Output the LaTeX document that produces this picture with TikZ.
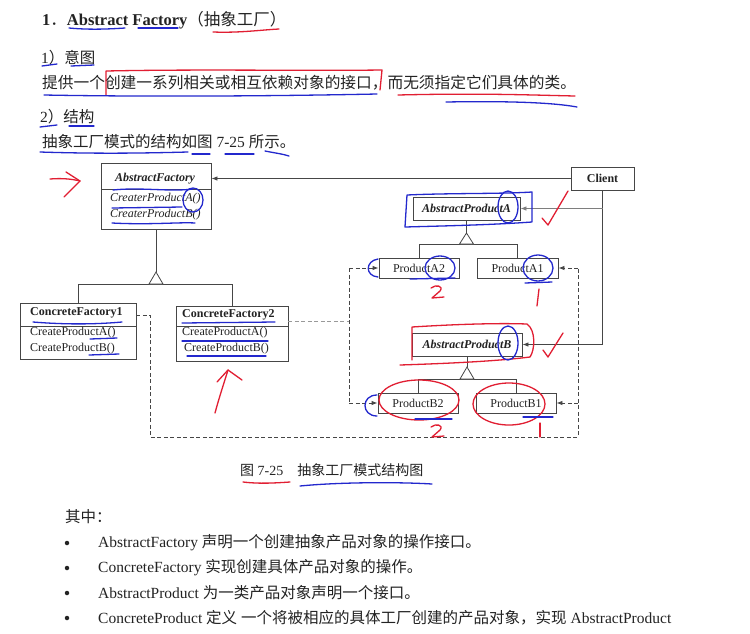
\documentclass[tikz,border=0pt]{standalone}
\usepackage{fontspec}
\setmainfont{Liberation Serif}
\newfontfamily\cjk{Noto Sans CJK SC}
\usetikzlibrary{arrows.meta}
\definecolor{ink}{RGB}{35,35,35}
\definecolor{lin}{RGB}{70,70,70}
\definecolor{pred}{RGB}{225,30,50}
\definecolor{pblue}{RGB}{35,40,205}
\begin{document}
\begin{tikzpicture}[x=1pt,y=-1pt,
  txt/.style={anchor=west,inner sep=0pt,text=ink,font=\fontsize{15.5}{18}\selectfont},
  dtxt/.style={anchor=west,inner sep=0pt,text=ink,font=\fontsize{12}{14}\selectfont},
  ditxt/.style={anchor=west,inner sep=0pt,text=ink,font=\itshape\fontsize{12}{14}\selectfont},
  box/.style={draw=lin,line width=0.9pt,fill=white,inner sep=0pt,text=ink,font=\fontsize{12}{14}\selectfont},
  bibox/.style={box,font=\bfseries\itshape\fontsize{12}{14}\selectfont},
  conn/.style={draw=lin,line width=0.8pt},
  arr/.style={-{Latex[length=6pt,width=4.5pt]}},
  dsh/.style={draw=lin,line width=0.9pt,dash pattern=on 4pt off 2.5pt},
  rp/.style={draw=pred,line width=1.3pt,line cap=round,line join=round},
  bp/.style={draw=pblue,line width=1.3pt,line cap=round,line join=round},
  bul/.style={circle,fill=ink,inner sep=0pt,minimum size=4.5pt},
]
\path[fill=white] (0,0) rectangle (750,633);

% ---------- header text ----------
\node[txt,font=\fontsize{16.5}{19}\selectfont] (title) at (42,20) {{\bfseries 1}{\cjk ．}{\bfseries Abstract Factory}{\cjk （抽象工厂）}};
\node[txt] (h1) at (41,58) {1{\cjk ）意图}};
\node[txt,font=\fontsize{15.7}{18}\selectfont] (p1) at (42,83) {\cjk 提供一个创建一系列相关或相互依赖对象的接口，而无须指定它们具体的类。};
\node[txt] (h2) at (40,117) {2{\cjk ）结构}};
\node[txt] (p2) at (42,142) {{\cjk 抽象工厂模式的结构如图} 7-25 {\cjk 所示。}};

% ---------- diagram boxes ----------
\node[box,minimum width=110pt,minimum height=66pt] (af) at (156,196) {};
\draw[conn] (101,189) -- (211,189);
\node[anchor=center,inner sep=0pt,text=ink,font=\bfseries\itshape\fontsize{12}{14}\selectfont] (aft) at (155,179) {AbstractFactory};
\node[ditxt] (afm1) at (110,199) {CreaterProductA()};
\node[ditxt] (afm2) at (110,215) {CreaterProductB()};

\node[box,minimum width=63pt,minimum height=23pt,font=\bfseries\fontsize{12}{14}\selectfont] (client) at (602.5,178.5) {Client};

\node[box,minimum width=116pt,minimum height=56pt] (cf1) at (78,331) {};
\draw[conn] (20,326) -- (136,326);
\node[dtxt,font=\bfseries\fontsize{12}{14}\selectfont] (cf1n) at (30,313) {ConcreteFactory1};
\node[dtxt] (cf1a) at (30,333) {CreateProductA()};
\node[dtxt] (cf1b) at (30,349) {CreateProductB()};

\node[box,minimum width=112pt,minimum height=55pt] (cf2) at (232,333.5) {};
\draw[conn] (176,326) -- (288,326);
\node[dtxt,font=\bfseries\fontsize{12}{14}\selectfont] (cf2n) at (182,315) {ConcreteFactory2};
\node[dtxt] (cf2a) at (182,333) {CreateProductA()};
\node[dtxt] (cf2b) at (184,349) {CreateProductB()};

\node[bibox,minimum width=107pt,minimum height=23pt] (apa) at (466.5,208.5) {AbstractProductA};
\node[box,minimum width=80pt,minimum height=20pt] (pa2) at (419,268) {ProductA2};
\node[box,minimum width=81pt,minimum height=20pt] (pa1) at (517.5,268) {ProductA1};
\node[bibox,minimum width=110pt,minimum height=23pt] (apb) at (467,344.5) {AbstractProductB};
\node[box,minimum width=80pt,minimum height=20pt] (pb2) at (418,403) {ProductB2};
\node[box,minimum width=80pt,minimum height=20pt] (pb1) at (516,403) {ProductB1};

% ---------- inheritance ----------
\coordinate (t1) at (156,272);
\coordinate (k1) at (156,284);
\draw[conn] (af.south) -- (t1);
\draw[conn] (cf1.north) -- (cf1.north |- k1) -- (cf2.north |- k1) -- (cf2.north);
\draw[conn,fill=white] (t1) -- ++(-7,12) -- ++(14,0) -- cycle;

\coordinate (t2) at (466.5,233);
\coordinate (k2) at (466.5,244);
\draw[conn] (apa.south) -- (t2);
\draw[conn] (pa2.north) -- (pa2.north |- k2) -- (pa1.north |- k2) -- (pa1.north);
\draw[conn,fill=white] (t2) -- ++(-7,11) -- ++(14,0) -- cycle;

\coordinate (t3) at (467,367);
\coordinate (k3) at (467,379);
\draw[conn] (apb.south) -- (t3);
\draw[conn] (pb2.north) -- (pb2.north |- k3) -- (pb1.north |- k3) -- (pb1.north);
\draw[conn,fill=white] (t3) -- ++(-7,12) -- ++(14,0) -- cycle;

% ---------- client associations ----------
\draw[conn,arr] (client.west) -- (client.west -| af.east);
\draw[conn,arr] (client.south) -- (client.south |- apb.east) -- (apb.east);
\draw[conn,arr,draw=lin!70] (client.south |- apa.east) -- (apa.east);

% ---------- dependencies (dashed) ----------
\coordinate (d1) at (150,315);
\coordinate (d2) at (150,437);
\coordinate (d3) at (578,437);
\draw[dsh] (cf1.east |- d1) -- (d1) -- (d2) -- (d3) -- (d3 |- pa1.east);
\draw[dsh,arr] (d3 |- pa1.east) -- (pa1.east);
\draw[dsh,arr] (d3 |- pb1.east) -- (pb1.east);
\coordinate (e1) at (349,321);
\draw[dsh,draw=lin!55] (cf2.east |- e1) -- (e1);
\draw[dsh] (e1 |- pa2.west) -- (e1 |- pb2.west);
\draw[dsh,arr] (e1 |- pa2.west) -- (pa2.west);
\draw[dsh,arr] (e1 |- pb2.west) -- (pb2.west);

% ---------- caption & list ----------
\node[txt,font=\fontsize{14}{16}\selectfont] (cap) at (240,470) {{\cjk 图} 7-25{\cjk 　抽象工厂模式结构图}};
\node[txt] (q0) at (65,517) {\cjk 其中：};
\node[bul] (b1) at (67,543) {};
\node[bul] (b2) at (67,568) {};
\node[bul] (b3) at (67,593) {};
\node[bul] (b4) at (67,618) {};
\node[txt] (q1) at (98,543) {AbstractFactory {\cjk 声明一个创建抽象产品对象的操作接口。}};
\node[txt] (q2) at (98,568) {ConcreteFactory {\cjk 实现创建具体产品对象的操作。}};
\node[txt] (q3) at (98,593) {AbstractProduct {\cjk 为一类产品对象声明一个接口。}};
\node[txt] (q4) at (98,618) {ConcreteProduct {\cjk 定义\hspace{4pt}一个将被相应的具体工厂创建的产品对象，实现} AbstractProduct};

% ---------- hand annotations: header ----------
\draw[bp] (69,28) .. controls (90,30) and (110,29) .. (125,28);
\draw[bp] (138,28) -- (178,28);
\draw[rp] (213,32) .. controls (240,33) and (260,30) .. (279,29);
\draw[bp] (42,66) -- (57,64);
\draw[bp] (71,66) -- (94,65);
\draw[rp] (106,95) -- (106,71) .. controls (200,69) and (300,71) .. (382,70) -- (380,90);
\draw[bp] (44,95) .. controls (150,97) and (280,96) .. (377,94);
\draw[rp] (398,95) .. controls (480,93) and (530,95) .. (575,96);
\draw[bp] (446,102) .. controls (500,101) and (550,102) .. (577,107);
\draw[bp] (40,127) -- (57,125);
\draw[bp] (69,126) -- (94,126);
\draw[bp] (40,152) .. controls (100,154) and (150,153) .. (188,152);
\draw[bp] (192,154) -- (210,154);
\draw[bp] (225,154) -- (254,154);
\draw[bp] (265,151) .. controls (275,153) and (283,154) .. (289,156);

% ---------- hand annotations: diagram ----------
\draw[rp] (50,179) .. controls (62,178) and (72,179) .. (80,181);
\draw[rp] (66,172) -- (80,181) -- (64,197);
\draw[bp] (113,190) .. controls (140,187) and (170,192) .. (193,189);
\draw[bp] (193,200) ellipse [x radius=10pt,y radius=12pt];
\draw[bp] (112,208) -- (182,207);
\draw[bp] (112,223) .. controls (150,225) and (180,222) .. (195,223);

\draw[bp] (33,322) .. controls (70,325) and (100,324) .. (122,322);
\draw[bp] (90,339) -- (117,338);
\draw[bp] (89,355) -- (119,354);
\draw[bp] (182,323) -- (275,322);
\draw[bp] (182,341) -- (268,341);
\draw[bp] (187,356) -- (266,356);
\draw[rp] (215,413) .. controls (219,398) and (224,383) .. (228,370);
\draw[rp] (217,382) -- (228,370) -- (242,380);

\draw[bp] (407,195) .. controls (450,193) and (500,194) .. (532,192) -- (532,222) .. controls (490,225) and (440,226) .. (405,227) -- (407,195);
\draw[bp] (508,207) ellipse [x radius=10pt,y radius=16pt];
\draw[rp] (542,218) -- (548,225) -- (568,191);

\draw[bp] (440,268) ellipse [x radius=15pt,y radius=12pt];
\draw[bp] (378,259) .. controls (365,261) and (365,276) .. (378,277);
\draw[bp] (410,279) -- (455,278);
\draw[rp] (431,288) .. controls (436,284) and (444,286) .. (440,291) -- (432,298) -- (444,297);
\draw[bp] (538,268) ellipse [x radius=15pt,y radius=13pt];
\draw[bp] (525,283) -- (552,282);
\draw[rp] (539,289) -- (537,306);

\draw[rp] (412,360) -- (412,327) .. controls (460,324) and (500,323) .. (527,324) .. controls (536,330) and (535,350) .. (530,357) .. controls (490,362) and (430,364) .. (400,365);
\draw[bp] (508,343) ellipse [x radius=10pt,y radius=17pt];
\draw[rp] (543,350) -- (548,357) -- (563,333);

\draw[rp] (419,400) ellipse [x radius=40pt,y radius=20pt];
\draw[rp] (509,404) ellipse [x radius=36pt,y radius=21pt];
\draw[bp] (415,419) -- (452,419);
\draw[bp] (523,417) -- (553,417);
\draw[bp] (377,395) .. controls (361,395) and (361,416) .. (377,416);
\draw[rp] (431,427) .. controls (436,423) and (444,425) .. (440,430) -- (432,437) -- (444,436);
\draw[rp] (540,423) -- (540,437);

\draw[rp] (243,482) .. controls (260,484) and (275,483) .. (290,482);
\draw[bp] (300,486) .. controls (340,482) and (400,482) .. (432,484);
\end{tikzpicture}
\end{document}
